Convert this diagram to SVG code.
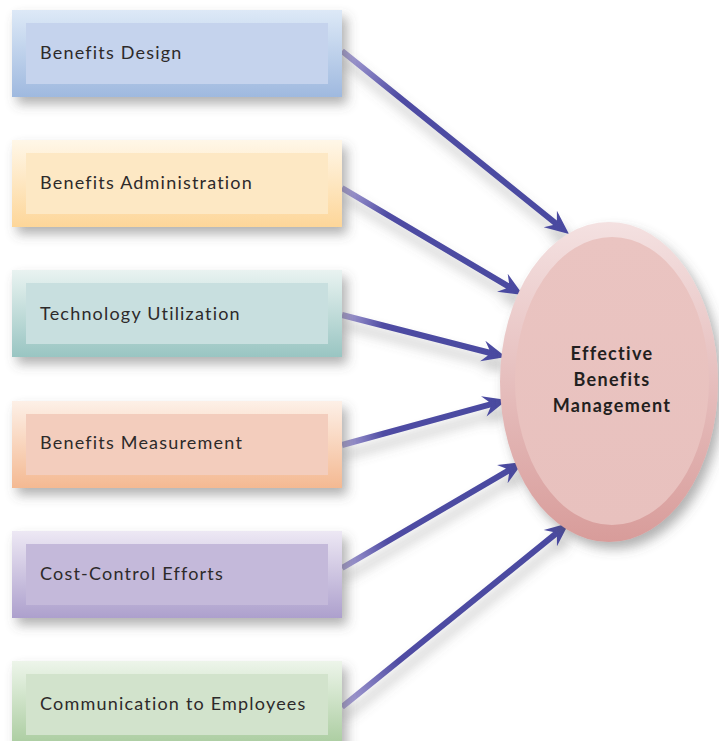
<svg xmlns="http://www.w3.org/2000/svg" width="719" height="741" viewBox="0 0 719 741">
<defs>
<filter id="sh" x="-20%" y="-30%" width="150%" height="180%">
<feDropShadow dx="5" dy="7" stdDeviation="6" flood-color="#555" flood-opacity="0.45"/>
</filter>
<filter id="ash" x="-20%" y="-100%" width="140%" height="400%">
<feDropShadow dx="3" dy="10" stdDeviation="6" flood-color="#666" flood-opacity="0.4"/>
</filter>
<linearGradient id="ag" x1="0" y1="0" x2="1" y2="0">
<stop offset="0" stop-color="#aea6d8"/>
<stop offset="0.25" stop-color="#4f4ca3"/>
<stop offset="1" stop-color="#4a4aa0"/>
</linearGradient>
<linearGradient id="g1" x1="0" y1="0" x2="0" y2="1"><stop offset="0" stop-color="#dde9f7"/><stop offset="1" stop-color="#9fb9df"/></linearGradient>
<linearGradient id="g2" x1="0" y1="0" x2="0" y2="1"><stop offset="0" stop-color="#fff7e8"/><stop offset="1" stop-color="#fdd699"/></linearGradient>
<linearGradient id="g3" x1="0" y1="0" x2="0" y2="1"><stop offset="0" stop-color="#e9f3f1"/><stop offset="1" stop-color="#99c5c2"/></linearGradient>
<linearGradient id="g4" x1="0" y1="0" x2="0" y2="1"><stop offset="0" stop-color="#fdf0e7"/><stop offset="1" stop-color="#f4b992"/></linearGradient>
<linearGradient id="g5" x1="0" y1="0" x2="0" y2="1"><stop offset="0" stop-color="#ede8f4"/><stop offset="1" stop-color="#ada0cd"/></linearGradient>
<linearGradient id="g6" x1="0" y1="0" x2="0" y2="1"><stop offset="0" stop-color="#edf5ea"/><stop offset="1" stop-color="#a8cb9d"/></linearGradient>
<linearGradient id="ge" x1="0" y1="0" x2="0" y2="1"><stop offset="0" stop-color="#f4e1e1"/><stop offset="1" stop-color="#d89c9a"/></linearGradient>
<linearGradient id="gei" x1="0" y1="0" x2="0" y2="1"><stop offset="0" stop-color="#eac4c1"/><stop offset="1" stop-color="#e8c1be"/></linearGradient>
</defs>
<style>
.lbl{font-family:Lato,"Open Sans","Liberation Sans",sans-serif;font-size:18px;letter-spacing:1.2px;fill:#2d2a2a}
.ctr{font-family:Lato,"Open Sans","Liberation Sans",sans-serif;font-size:18px;letter-spacing:1.3px;font-weight:bold;fill:#231f20;text-anchor:middle}
.arrow{fill:url(#ag)}
</style>
<rect width="719" height="741" fill="#ffffff"/>
<g id="connectors" filter="url(#ash)">
<path class="arrow" transform="translate(342,51) rotate(38.88)" d="M0,-3 L273.6,-3 L267.6,-10.5 L291.6,0 L267.6,10.5 L273.6,3 L0,3 Z"/>
<path class="arrow" transform="translate(342,188) rotate(30.59)" d="M0,-3 L192.3,-3 L186.3,-10.5 L210.3,0 L186.3,10.5 L192.3,3 L0,3 Z"/>
<path class="arrow" transform="translate(342,315) rotate(14.36)" d="M0,-3 L151.3,-3 L145.3,-10.5 L169.3,0 L145.3,10.5 L151.3,3 L0,3 Z"/>
<path class="arrow" transform="translate(342,445) rotate(-15.26)" d="M0,-3 L153,-3 L147,-10.5 L171,0 L147,10.5 L153,3 L0,3 Z"/>
<path class="arrow" transform="translate(342,568) rotate(-30.36)" d="M0,-3 L191.8,-3 L185.8,-10.5 L209.8,0 L185.8,10.5 L191.8,3 L0,3 Z"/>
<path class="arrow" transform="translate(342,707) rotate(-39.03)" d="M0,-3 L274.2,-3 L268.2,-10.5 L292.2,0 L268.2,10.5 L274.2,3 L0,3 Z"/>
</g>
<g id="n1">
<rect x="12" y="10" width="330" height="87" fill="url(#g1)" filter="url(#sh)"/>
<rect x="26" y="23" width="302" height="61" fill="#c5d3ed"/>
<text class="lbl" x="40" y="59">Benefits Design</text>
</g>
<g id="n2">
<rect x="12" y="140" width="330" height="87" fill="url(#g2)" filter="url(#sh)"/>
<rect x="26" y="153" width="302" height="61" fill="#fde8c4"/>
<text class="lbl" x="40" y="189">Benefits Administration</text>
</g>
<g id="n3">
<rect x="12" y="270" width="330" height="87" fill="url(#g3)" filter="url(#sh)"/>
<rect x="26" y="283" width="302" height="61" fill="#c8dfdf"/>
<text class="lbl" x="40" y="320">Technology Utilization</text>
</g>
<g id="n4">
<rect x="12" y="401" width="330" height="87" fill="url(#g4)" filter="url(#sh)"/>
<rect x="26" y="414" width="302" height="61" fill="#f3cdbd"/>
<text class="lbl" x="40" y="449">Benefits Measurement</text>
</g>
<g id="n5">
<rect x="12" y="531" width="330" height="87" fill="url(#g5)" filter="url(#sh)"/>
<rect x="26" y="544" width="302" height="61" fill="#c4b9da"/>
<text class="lbl" x="40" y="580">Cost-Control Efforts</text>
</g>
<g id="n6">
<rect x="12" y="661" width="330" height="87" fill="url(#g6)" filter="url(#sh)"/>
<rect x="26" y="674" width="302" height="61" fill="#d2e3cc"/>
<text class="lbl" x="40" y="710">Communication to Employees</text>
</g>
<g id="center">
<ellipse cx="609" cy="382" rx="109" ry="160" fill="url(#ge)" filter="url(#sh)"/>
<ellipse cx="612" cy="381" rx="97" ry="144" fill="url(#gei)"/>
<text class="ctr" x="612" y="360">Effective</text>
<text class="ctr" x="612" y="386">Benefits</text>
<text class="ctr" x="612" y="412">Management</text>
</g>
</svg>
